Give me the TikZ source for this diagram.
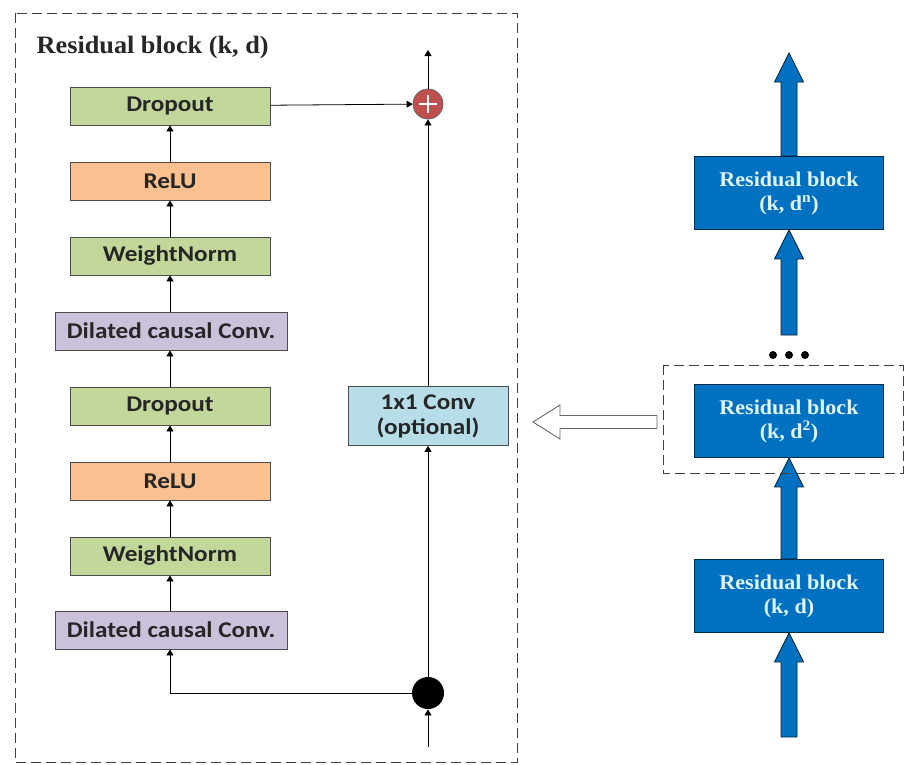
\documentclass[tikz,border=0pt]{standalone}
\usepackage{fontspec}
\usetikzlibrary{arrows.meta,calc}
\newfontfamily\boxfont{Carlito}[FakeStretch=1.12]
\newfontfamily\titlefont{Liberation Serif}[FakeStretch=1.05]
\definecolor{greenfill}{HTML}{C4D79B}
\definecolor{orangefill}{HTML}{FAC090}
\definecolor{purplefill}{HTML}{CCC1DA}
\definecolor{convfill}{HTML}{B7DEE8}
\definecolor{blockblue}{HTML}{0070C0}
\definecolor{addred}{HTML}{C0504D}
\tikzset{
  layer/.style={draw=black!70, minimum width=200pt, minimum height=38pt, inner sep=0pt,
    font=\boxfont\fontsize{22.5}{25}\selectfont\bfseries, text=black!85},
  greenbox/.style={layer, fill=greenfill},
  orangebox/.style={layer, fill=orangefill},
  purplebox/.style={layer, fill=purplefill, minimum width=232pt},
  convbox/.style={layer, fill=convfill, minimum width=160pt, minimum height=59pt, align=center},
  resblock/.style={draw=black!60!blockblue, fill=blockblue, minimum width=189pt, minimum height=73pt,
    inner sep=0pt, align=center, text=white!88!cyan,
    font=\titlefont\fontsize{21}{24}\selectfont\bfseries},
  fatarrow/.style={draw=black!70!blockblue, fill=blockblue, line width=0.8pt},
  plus/.style={circle, draw=black!60, fill=addred, minimum size=30pt, inner sep=0pt,
    path picture={\draw[white, line width=2.4pt]
      ([yshift=-6pt]path picture bounding box.north) -- ([yshift=6pt]path picture bounding box.south)
      ([xshift=6pt]path picture bounding box.west) -- ([xshift=-6pt]path picture bounding box.east);}},
  splitdot/.style={circle, fill=black, minimum size=32pt, inner sep=0pt},
  frame/.style={draw=black!75, line width=0.9pt, dash pattern=on 10pt off 5pt},
  >={Triangle[length=6pt,width=7pt]}
}
% block arrow pointing up, from #1 to #2
\newcommand{\fatarrow}[2]{%
  \draw[fatarrow] let \p1=(#1), \p2=(#2) in
    (\x1-8pt,\y1) -- (\x1-8pt,\y2-29pt) -- (\x1-14.5pt,\y2-29pt) -- (\x2,\y2)
    -- (\x1+14.5pt,\y2-29pt) -- (\x1+8pt,\y2-29pt) -- (\x1+8pt,\y1) -- cycle;}
\begin{document}
\begin{tikzpicture}[x=1pt,y=-1pt,line width=0.8pt]
  \useasboundingbox (0,0) rectangle (905,764);

  % residual block detail
  \draw[frame] (15,13) rectangle (517,762);
  \node[anchor=west, font=\titlefont\fontsize{25}{29}\selectfont\bfseries, text=black!85] (title) at (33,47) {Residual block (k, d)};

  \node[greenbox] (drop2) at (170,106) {Dropout};
  \node[orangebox] (relu2) at (170,181) {ReLU};
  \node[greenbox] (wn2) at (170,256) {WeightNorm};
  \node[purplebox] (conv2) at (171,331) {Dilated causal Conv.};
  \node[greenbox] (drop1) at (170,406) {Dropout};
  \node[orangebox] (relu1) at (170,481) {ReLU};
  \node[greenbox] (wn1) at (170,556) {WeightNorm};
  \node[purplebox] (conv1) at (171,630) {Dilated causal Conv.};

  \node[plus] (add) at (428,104) {};
  \node[convbox] (down) at (428,416) {1x1 Conv\\(optional)};
  \node[splitdot] (split) at (428,693) {};
  \coordinate (in) at (428,747);
  \coordinate (out) at (428,50);

  \draw (in) edge[->] (split);
  \draw (split) edge[->] (down);
  \draw (down) edge[->] (add);
  \draw (add) edge[->] (out);
  \draw[->] (split) -| (conv1.south -| wn1.south);
  \draw (conv1.north -| wn1.south) edge[->] (wn1);
  \draw (wn1) edge[->] (relu1);
  \draw (relu1) edge[->] (drop1);
  \draw (drop1) edge[->] (conv2.south -| drop1.north);
  \draw (conv2.north -| wn2.south) edge[->] (wn2);
  \draw (wn2) edge[->] (relu2);
  \draw (relu2) edge[->] (drop2);
  \draw (drop2) edge[->] (add);

  % stack of residual blocks
  \node[resblock] (rb1) at (789,596) {Residual block\\(k, d)};
  \node[resblock] (rb2) at (789,421) {Residual block\\(k, d\textsuperscript{2})};
  \node[resblock] (rb3) at (789,193) {Residual block\\(k, d\textsuperscript{n})};
  \coordinate (stackin) at (789,737);
  \coordinate (gapin) at (789,335);
  \coordinate (stackout) at (789,53);

  \fatarrow{stackin}{rb1.south}
  \fatarrow{rb1.north}{rb2.south}
  \fatarrow{gapin}{rb3.south}
  \fatarrow{rb3.north}{stackout}

  \foreach \dx in {-16,0,16}
    \fill (789+\dx,355) circle (4);

  \draw[frame] (663,365) rectangle (903,473);

  % hollow arrow to the detail
  \coordinate (tail) at (657,422);
  \coordinate (tip) at (533,422);
  \draw[draw=black!60, fill=white, line width=0.9pt] let \p1=(tail), \p2=(tip) in
    (\x1,\y1+6.5pt) -- (\x2+27pt,\y1+6.5pt) -- (\x2+27pt,\y1+17pt) -- (\x2,\y2)
    -- (\x2+27pt,\y1-17pt) -- (\x2+27pt,\y1-6.5pt) -- (\x1,\y1-6.5pt) -- cycle;
\end{tikzpicture}
\end{document}
